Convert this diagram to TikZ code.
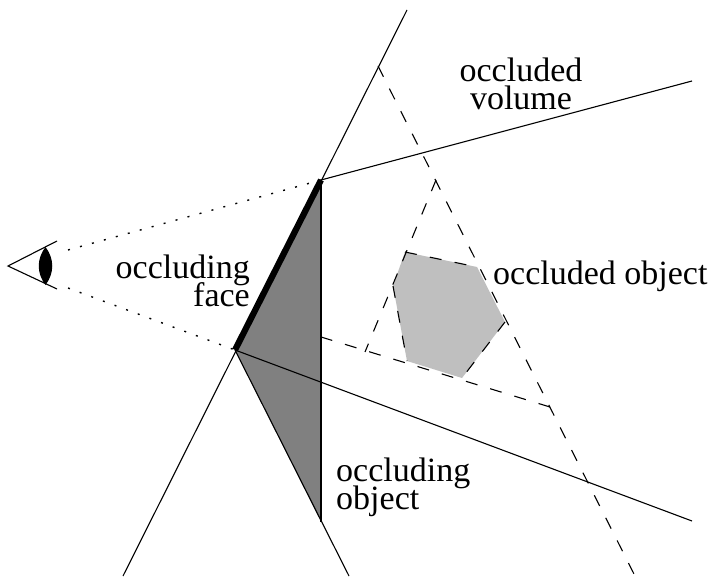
\documentclass[tikz,border=0pt]{standalone}
\usepackage{fontspec}
\setmainfont{Liberation Serif}
\tikzset{
  line/.style={draw=black,line width=1.1pt},
  dash line/.style={draw=black,line width=1.1pt,dash pattern=on 12pt off 13.3pt},
  dot line/.style={draw=black,line width=1.4pt,dash pattern=on 2pt off 10.4pt},
  lbl/.style={inner sep=0pt,font=\fontsize{34}{28}\selectfont\lineskiplimit -20pt\relax},
}
\begin{document}
\begin{tikzpicture}[x=1pt,y=-1pt]
\useasboundingbox (0,0) rectangle (709,577);
\coordinate (A) at (321,180);
\coordinate (B) at (235,350);
\coordinate (C) at (321,522);
\coordinate (T) at (407,10);
\coordinate (U) at (123,576);
\coordinate (V) at (349,576);
\coordinate (R1) at (692,81);
\coordinate (R2) at (692,521);
\coordinate (D1) at (378,66);
\coordinate (D2) at (635,576);
\coordinate (D3) at (436,180);
\coordinate (D4) at (365,352);
\coordinate (D5) at (321,337);
\coordinate (D6) at (550,407);
\coordinate (P1) at (405,252);
\coordinate (P2) at (477,267);
\coordinate (P3) at (505,322);
\coordinate (P4) at (462,378);
\coordinate (P5) at (407,361);
\coordinate (P6) at (393,286);
\coordinate (E0) at (8,266);
\coordinate (E1) at (57,241);
\coordinate (E2) at (57,289);
\coordinate (L1) at (45.5,247);
\coordinate (L2) at (45.5,285);
\coordinate (S1) at (68,250);
\coordinate (S2) at (68,288);
% fills
\fill[black!50] (A) -- (B) -- (C) -- cycle;
\fill[black!25] (P1) -- (P2) -- (P3) -- (P4) -- (P5) -- (P6) -- cycle;
% dashed
\draw[dash line] (D1) -- (D2);
\draw[dash line] (D3) -- (D4);
\draw[dash line] (D6) -- (D5);
\draw[dash line] (P1) -- (P2);
\draw[dash line] (P3) -- (P4);
\draw[dash line] (P6) -- (P5);
% solid
\draw[line] (T) -- (U);
\draw[line] (V) -- (B);
\draw[line] (A) -- (R1);
\draw[line] (B) -- (R2);
\draw[line] (A) -- (C);
\draw[black,line width=6.2pt] (A) -- (B);
% sight lines
\draw[dot line] (S1) -- (A);
\draw[dot line] (S2) -- (B);
% eye
\draw[line] (E1) -- (E0) -- (E2);
\fill[black] (L1) .. controls (54.5,259) and (54.5,273) .. (L2) .. controls (36.5,273) and (36.5,259) .. (L1) -- cycle;
% labels
\node[lbl,align=right,anchor=east] (n1) at (250,281) {occluding\\face};
\node[lbl,align=center,anchor=center] (n2) at (521,84) {occluded\\volume};
\node[lbl,anchor=base west] (n3) at (493,284) {occluded object};
\node[lbl,align=left,anchor=west] (n4) at (336,487) {occluding\\object};
\end{tikzpicture}
\end{document}
